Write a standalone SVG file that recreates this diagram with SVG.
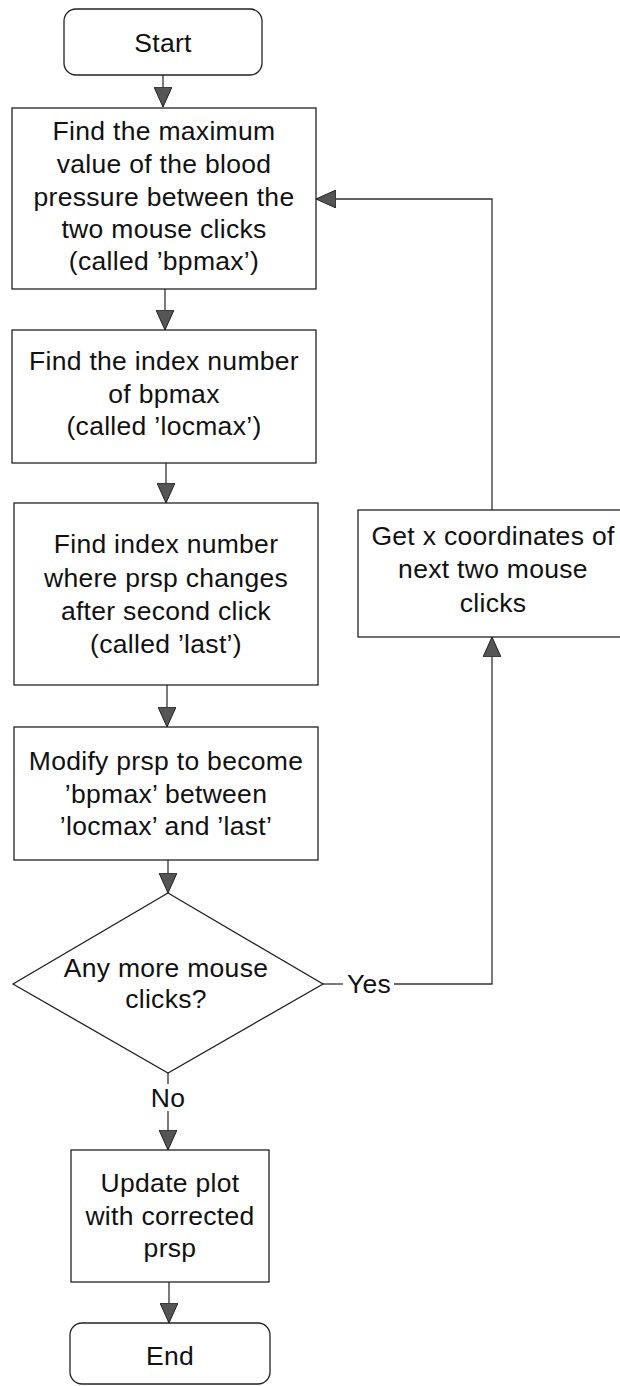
<svg xmlns="http://www.w3.org/2000/svg" width="620" height="1386" viewBox="0 0 620 1386">
<defs>
<style>
.box{fill:#fff;stroke:#222;stroke-width:1.3}
.ln{fill:none;stroke:#333;stroke-width:1.3}
.t{font-family:"Liberation Sans",Arial,Helvetica,sans-serif;font-size:26.5px;letter-spacing:0.3px;fill:#111;text-anchor:middle}
</style>
<marker id="ah" viewBox="0 0 20 18" refX="20" refY="9" markerWidth="20" markerHeight="18" markerUnits="userSpaceOnUse" orient="auto">
<path d="M0,0 L20,9 L0,18 Z" fill="#555" stroke="#222" stroke-width="1"/>
</marker>
</defs>
<rect width="620" height="1386" fill="#fff"/>
<g id="connectors">
<line class="ln" x1="163" y1="75" x2="163" y2="107" marker-end="url(#ah)"/>
<line class="ln" x1="165" y1="289" x2="165" y2="330" marker-end="url(#ah)"/>
<line class="ln" x1="166" y1="463" x2="166" y2="503" marker-end="url(#ah)"/>
<line class="ln" x1="167" y1="685" x2="167" y2="727" marker-end="url(#ah)"/>
<line class="ln" x1="168" y1="860" x2="168" y2="893" marker-end="url(#ah)"/>
<polyline class="ln" points="323,984 343,984"/>
<polyline class="ln" points="394,984 492,984 492,637" marker-end="url(#ah)"/>
<polyline class="ln" points="492,510 492,199 316,199" marker-end="url(#ah)"/>
<line class="ln" x1="168" y1="1073" x2="168" y2="1084"/>
<line class="ln" x1="168" y1="1111" x2="168" y2="1150" marker-end="url(#ah)"/>
<line class="ln" x1="169" y1="1282" x2="169" y2="1323" marker-end="url(#ah)"/>
<text class="t" x="369" y="993">Yes</text>
<text class="t" x="168" y="1107">No</text>
</g>
<g id="start">
<rect class="box" x="64" y="9" width="198" height="66" rx="12"/>
<text class="t" x="163" y="52">Start</text>
</g>
<g id="find-max">
<rect class="box" x="12" y="108" width="304" height="181"/>
<text class="t" x="164" y="140">Find the maximum</text>
<text class="t" x="164" y="173">value of the blood</text>
<text class="t" x="164" y="206">pressure between the</text>
<text class="t" x="164" y="238">two mouse clicks</text>
<text class="t" x="164" y="270">(called ’bpmax’)</text>
</g>
<g id="find-index">
<rect class="box" x="12" y="330" width="304" height="133"/>
<text class="t" x="164" y="370">Find the index number</text>
<text class="t" x="164" y="403">of bpmax</text>
<text class="t" x="164" y="435">(called ’locmax’)</text>
</g>
<g id="find-last">
<rect class="box" x="14" y="503" width="304" height="182"/>
<text class="t" x="166" y="553">Find index number</text>
<text class="t" x="166" y="587">where prsp changes</text>
<text class="t" x="166" y="620">after second click</text>
<text class="t" x="166" y="653">(called ’last’)</text>
</g>
<g id="modify">
<rect class="box" x="14" y="727" width="304" height="133"/>
<text class="t" x="166" y="770">Modify prsp to become</text>
<text class="t" x="166" y="803">’bpmax’ between</text>
<text class="t" x="166" y="835">’locmax’ and ’last’</text>
</g>
<g id="decision">
<polygon class="box" points="168,893 323,984 168,1073 13,984"/>
<text class="t" x="166" y="977">Any more mouse</text>
<text class="t" x="166" y="1008">clicks?</text>
</g>
<g id="get-next">
<rect class="box" x="358" y="510" width="270" height="127"/>
<text class="t" x="493" y="545">Get x coordinates of</text>
<text class="t" x="493" y="578">next two mouse</text>
<text class="t" x="493" y="612">clicks</text>
</g>
<g id="update">
<rect class="box" x="71" y="1150" width="198" height="132"/>
<text class="t" x="170" y="1192">Update plot</text>
<text class="t" x="170" y="1225">with corrected</text>
<text class="t" x="170" y="1257">prsp</text>
</g>
<g id="end">
<rect class="box" x="70" y="1323" width="200" height="61" rx="12"/>
<text class="t" x="170" y="1365">End</text>
</g>
</svg>
